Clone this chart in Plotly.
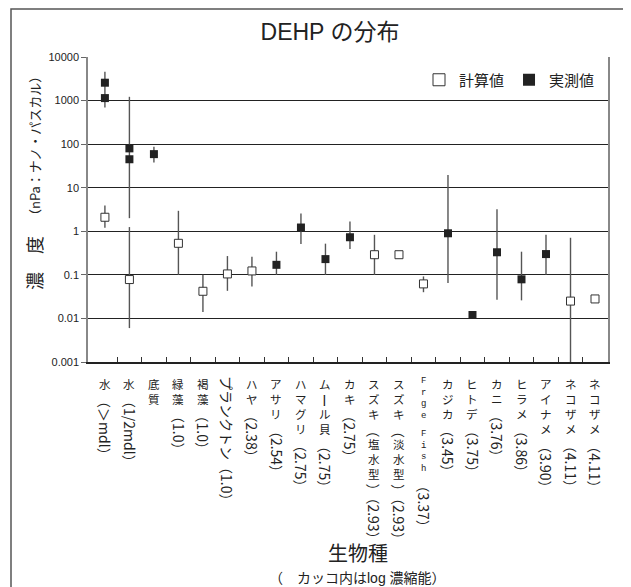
import plotly.graph_objects as go

# ---------------- data ----------------
categories = ["水（＞mdl）", "水（1/2mdl）", "底質", "緑藻（1.0）", "褐藻（1.0）",
              "プランクトン（1.0）", "ハヤ（2.38）", "アサリ（2.54）", "ハマグリ（2.75）",
              "ムール貝（2.75）", "カキ（2.75）", "スズキ（塩水型）（2.93）",
              "スズキ（淡水型）（2.93）", "Frge Fish（3.37）", "カジカ（3.45）",
              "ヒトデ（3.75）", "カニ（3.76）", "ヒラメ（3.86）", "アイナメ（3.90）",
              "ネコザメ（4.11）", "ネコザメ（4.11）"]

calc_value = [2.1, 0.078, None, 0.53, 0.042, 0.105, 0.123, None, None, None, None,
              0.29, 0.29, 0.062, None, None, None, None, None, 0.025, 0.028]
calc_low = [1.2, 0.006, None, 0.1, 0.014, 0.043, 0.054, None, None, None, None,
            0.1, None, 0.04, None, None, None, None, None, 0.0005, None]
calc_high = [3.9, 1.25, None, 2.95, 0.1, 0.27, 0.26, None, None, None, None,
             0.83, None, 0.092, None, None, None, None, None, 0.71, None]

meas_value = [2570, 80, 59, None, None, None, None, 0.17, 1.22, 0.23, 0.73,
              None, None, None, 0.9, 0.012, 0.33, 0.079, 0.3, None, None]
meas_value2 = [1140, 45, None, None, None, None, None, None, None, None, None,
               None, None, None, None, None, None, None, None, None, None]
meas_low = [690, 2.0, 38, None, None, None, None, 0.1, 0.51, 0.1, 0.39,
            None, None, None, 0.065, None, 0.027, 0.026, 0.1, None, None]
meas_high = [4600, 1220, 87, None, None, None, None, 0.34, 2.57, 0.52, 1.67,
             None, None, None, 19.5, None, 3.2, 0.34, 0.83, None, None]

y_tickvals = [0.001, 0.01, 0.1, 1, 10, 100, 1000, 10000]
y_ticktext = ["0.001", "0.01", "0.1", "1", "10", "100", "1000", "10000"]

title_text = "DEHP の分布"
legend_calc = "計算値"
legend_meas = "実測値"
x_title = "生物種"
x_subtitle = "（　カッコ内はlog 濃縮能）"
y_title_main = "濃　度"
y_title_sub = "（nPa：ナノ・パスカル）"

# ---------------- geometry (page has an 8px body margin) ----------------
OFF = 8
W, H = 631 - OFF, 587 - OFF
ML = 88 - OFF
MT = 57 - OFF
MR = W - (608 - OFF)
MB = H - (362 - OFF)
PW, PH = W - ML - MR, H - MT - MB
JP = "Noto Sans CJK JP"
SANS = "Liberation Sans, Arial, Noto Sans CJK JP"


def pxx(xr):
    return (xr - OFF - ML) / PW


def pxy(yr):
    return (H - MB - (yr - OFF)) / PH


x = list(range(len(categories)))
fig = go.Figure()


def err_lines(low, high):
    ex, ey = [], []
    for i, (lo, hi) in enumerate(zip(low, high)):
        if lo is None or hi is None:
            continue
        ex += [i, i, None]
        ey += [lo, hi, None]
    return ex, ey


for lo, hi in [(calc_low, calc_high), (meas_low, meas_high)]:
    ex, ey = err_lines(lo, hi)
    fig.add_trace(go.Scatter(x=ex, y=ey, mode="lines", showlegend=False,
                             line=dict(color="#555555", width=1.4), hoverinfo="skip"))

fig.add_trace(go.Scatter(x=x, y=calc_value, mode="markers", showlegend=False,
                         marker=dict(symbol="square", size=8, color="white",
                                     line=dict(color="#333333", width=1))))
for mv in (meas_value, meas_value2):
    fig.add_trace(go.Scatter(x=x, y=mv, mode="markers", showlegend=False,
                             marker=dict(symbol="square", size=8, color="#222222",
                                         line=dict(width=0))))

fig.add_trace(go.Scatter(x=[None], y=[None], mode="markers", name=legend_calc,
                         marker=dict(symbol="square", size=12, color="white",
                                     line=dict(color="#333333", width=1))))
fig.add_trace(go.Scatter(x=[None], y=[None], mode="markers", name=legend_meas,
                         marker=dict(symbol="square", size=12, color="#222222",
                                     line=dict(width=0))))


# ---------------- x tick labels in vertical writing ----------------
def is_upright_char(c):
    o = ord(c)
    if c == "ー":
        return False
    return (0x3040 <= o <= 0x30FF) or (0x4E00 <= o <= 0x9FFF)


def em_width(c):
    o = ord(c)
    if o > 0x2E80 or c in "（）＞：":
        return 0.8
    table = {".": 0.27, "/": 0.4, "m": 0.84, "d": 0.57, "l": 0.24, " ": 0.22}
    return table.get(c, 0.55)


def layout_label(label):
    lead = 0
    for c in label:
        if 0x30A0 <= ord(c) <= 0x30FF:
            lead += 1
        else:
            break
    if lead >= 6:
        return [("rot", label)]
    segs = []
    depth = 0
    for c in label:
        if c == "（":
            depth += 1
        if is_upright_char(c):
            kind = "up"
        elif depth == 0 and c.isascii() and c.isalpha():
            kind = "lat"
        elif depth == 0 and c == " ":
            kind = "gap"
        else:
            kind = "rot"
        if segs and segs[-1][0] == kind and kind != "gap":
            segs[-1] = (kind, segs[-1][1] + c)
        else:
            segs.append((kind, c))
        if c == "）":
            depth -= 1
    return segs


UFS = 11.5    # upright CJK font size (line pitch = 1.3 * size)
LATFS = 9     # upright latin letters
RFS = 14      # rotated runs
annotations = []
for i, lab in enumerate(categories):
    cur = 13.0
    for kind, txt in layout_label(lab):
        if kind in ("up", "lat"):
            fs = UFS if kind == "up" else LATFS
            fam = JP if kind == "up" else "Liberation Mono"
            annotations.append(dict(x=i, xref="x", y=0, yref="paper", text="<br>".join(txt),
                                    showarrow=False, yanchor="top", xanchor="center",
                                    yshift=-cur, borderpad=0,
                                    font=dict(family=fam, size=fs, color="#222")))
            cur += len(txt) * fs * 1.3 + 3
        elif kind == "gap":
            cur += 3
        else:
            w = sum(em_width(c) for c in txt) * RFS
            annotations.append(dict(x=i, xref="x", y=0, yref="paper", text=txt,
                                    showarrow=False, yanchor="top", xanchor="center",
                                    textangle=90, yshift=-cur, borderpad=0,
                                    font=dict(family=JP, size=RFS, color="#222")))
            cur += w + 1

# axis titles
annotations.append(dict(x=pxx(358), xref="paper", y=pxy(552), yref="paper",
                        text=x_title, showarrow=False, xanchor="center", yanchor="middle",
                        font=dict(family=JP, size=20, color="#222")))
annotations.append(dict(x=pxx(357), xref="paper", y=pxy(578), yref="paper",
                        text=x_subtitle, showarrow=False, xanchor="center", yanchor="middle",
                        font=dict(family=SANS, size=14, color="#222")))
annotations.append(dict(x=pxx(34), xref="paper", y=pxy(263), yref="paper",
                        text=y_title_main, showarrow=False, xanchor="center", yanchor="middle",
                        textangle=-90, font=dict(family=JP, size=18, color="#222")))
annotations.append(dict(x=pxx(34), xref="paper", y=pxy(146), yref="paper",
                        text=y_title_sub, showarrow=False, xanchor="center", yanchor="middle",
                        textangle=-90, font=dict(family=JP, size=13, color="#222")))

shapes = [dict(type="rect", xref="paper", yref="paper",
               x0=pxx(11), x1=pxx(630), y0=pxy(600), y1=pxy(9),
               line=dict(color="#555555", width=1.5), fillcolor="rgba(0,0,0,0)", layer="below")]

fig.update_layout(
    width=W, height=H,
    margin=dict(l=ML, r=MR, t=MT, b=MB),
    paper_bgcolor="white", plot_bgcolor="white",
    title=dict(text=title_text, x=(330 - OFF) / W, xref="container", xanchor="center",
               y=1 - (32 - OFF) / H, yref="container", yanchor="middle",
               font=dict(family=SANS, size=23, color="#222")),
    showlegend=True,
    legend=dict(orientation="h", x=pxx(600), xanchor="right",
                y=pxy(80), yanchor="middle",
                font=dict(family=JP, size=15, color="#222"),
                bgcolor="rgba(0,0,0,0)", itemwidth=30),
    annotations=annotations,
    shapes=shapes,
    xaxis=dict(range=[-0.69, 20.53], tickvals=[v + 0.5 for v in range(len(categories) - 1)],
               ticktext=[""] * (len(categories) - 1), ticks="inside", ticklen=5,
               tickcolor="#333", showgrid=False, zeroline=False, showline=True,
               linecolor="#222", linewidth=1.5),
    yaxis=dict(type="log", range=[-3, 4], tickvals=y_tickvals, ticktext=y_ticktext,
               ticks="outside", ticklen=5, tickcolor="#666",
               tickfont=dict(family=SANS, size=11, color="#222"),
               showgrid=True, gridcolor="#222222", gridwidth=1, zeroline=False,
               showline=True, linecolor="#888888", linewidth=1.5, mirror=True),
)

fig.write_html("out.html")
